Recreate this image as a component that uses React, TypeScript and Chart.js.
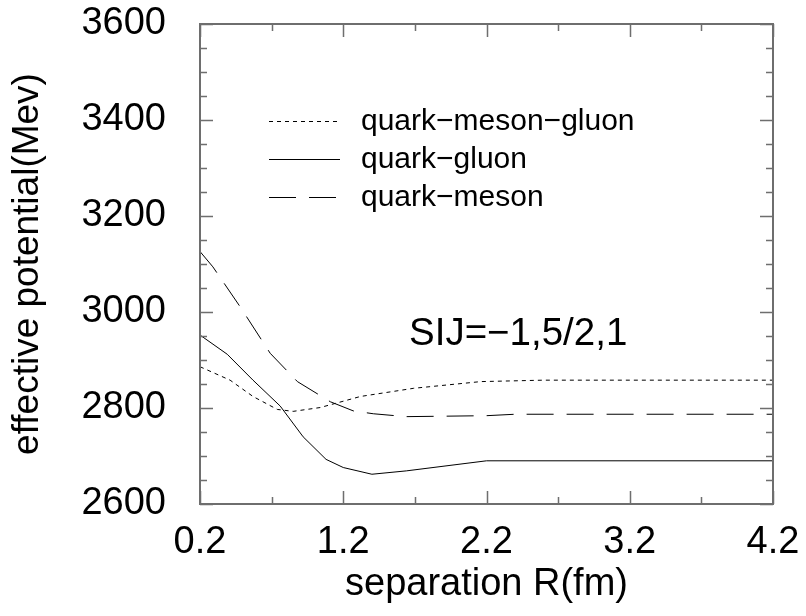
import React, { useEffect, useRef } from 'react';
import { Chart, registerables } from 'chart.js';

Chart.register(...registerables);

// ---- data ----
const xMajorTicks = [0.2, 1.2, 2.2, 3.2, 4.2];
const xMinorTicks = [0.7, 1.7, 2.7, 3.7];
const yMajorTicks = [2600, 2800, 3000, 3200, 3400, 3600];
const yMinorTicks = [2650, 2700, 2750, 2850, 2900, 2950, 3050, 3100, 3150, 3250, 3300, 3350, 3450, 3500, 3550];

const seriesLabels = ['quark\u2212meson\u2212gluon', 'quark\u2212gluon', 'quark\u2212meson'];

const qmgR = [0.2, 0.41, 0.57, 0.74, 0.85, 1.04, 1.32, 1.69, 2.16, 2.6, 3.2, 4.2];
const qmgV = [2886, 2858, 2824, 2797, 2793, 2801, 2824, 2841, 2855, 2858, 2858, 2858];

const qgR = [0.2, 0.39, 0.57, 0.76, 0.92, 1.08, 1.2, 1.4, 1.64, 2.2, 4.2];
const qgV = [2952, 2912, 2858, 2804, 2740, 2693, 2676, 2662, 2669, 2690, 2690];

const qmR = [0.2, 0.29, 0.48, 0.69, 0.88, 1.11, 1.27, 1.41, 1.64, 2.2, 2.4, 4.2];
const qmV = [3126, 3094, 3011, 2914, 2855, 2813, 2794, 2788, 2782, 2784, 2787, 2787];

const annotationText = 'SIJ=\u22121,5/2,1';
const xTitle = 'separation R(fm)';
const yTitle = 'effective potential(Mev)';

const FONT = '"Liberation Sans", Arial, Helvetica, sans-serif';
const AXIS_GRAY = '#6e6e6e';

const toPoints = (xs: number[], ys: number[]) => xs.map((x, i) => ({ x, y: ys[i] }));

const decorPlugin = {
  id: 'decor',
  afterDatasetsDraw(chart: any) {
    const { ctx, chartArea: a, scales } = chart;
    const xs = scales.x;
    const ys = scales.y;
    ctx.save();
    // inward ticks
    ctx.strokeStyle = AXIS_GRAY;
    ctx.lineWidth = 1.5;
    ctx.setLineDash([]);
    const tickX = (v: number, len: number) => {
      const px = Math.round(xs.getPixelForValue(v)) + 0.5;
      ctx.beginPath();
      ctx.moveTo(px, a.bottom);
      ctx.lineTo(px, a.bottom - len);
      ctx.moveTo(px, a.top);
      ctx.lineTo(px, a.top + len);
      ctx.stroke();
    };
    const tickY = (v: number, len: number) => {
      const py = Math.round(ys.getPixelForValue(v)) + 0.5;
      ctx.beginPath();
      ctx.moveTo(a.left, py);
      ctx.lineTo(a.left + len, py);
      ctx.moveTo(a.right, py);
      ctx.lineTo(a.right - len, py);
      ctx.stroke();
    };
    xMajorTicks.forEach((v) => tickX(v, 13));
    xMinorTicks.forEach((v) => tickX(v, 7));
    yMajorTicks.forEach((v) => tickY(v, 13));
    yMinorTicks.forEach((v) => tickY(v, 7));
    // frame
    ctx.lineWidth = 2;
    ctx.strokeRect(a.left, a.top, a.right - a.left, a.bottom - a.top);

    // legend
    const rows = [121, 159, 197];
    chart.data.datasets.forEach((ds: any, i: number) => {
      const y = rows[i] + 0.5;
      ctx.strokeStyle = '#000';
      ctx.lineWidth = 1;
      ctx.setLineDash(ds.borderDash || []);
      ctx.beginPath();
      ctx.moveTo(269, y);
      ctx.lineTo(340, y);
      ctx.stroke();
      ctx.setLineDash([]);
      ctx.fillStyle = '#000';
      ctx.font = `30px ${FONT}`;
      ctx.textAlign = 'left';
      ctx.textBaseline = 'middle';
      ctx.fillText(ds.label, 361, rows[i] + 1);
    });

    // annotation
    ctx.fillStyle = '#000';
    ctx.font = `38.5px ${FONT}`;
    ctx.textAlign = 'left';
    ctx.textBaseline = 'alphabetic';
    ctx.fillText(annotationText, 409, 345);
    ctx.restore();
  },
};

export default function App() {
  const ref = useRef<HTMLCanvasElement | null>(null);
  useEffect(() => {
    if (!ref.current) return;
    const chart = new Chart(ref.current, {
      type: 'line',
      data: {
        datasets: [
          {
            label: seriesLabels[0],
            data: toPoints(qmgR, qmgV),
            borderColor: '#000',
            borderWidth: 1,
            borderDash: [4, 4],
            pointRadius: 0,
            tension: 0,
          },
          {
            label: seriesLabels[1],
            data: toPoints(qgR, qgV),
            borderColor: '#000',
            borderWidth: 1,
            pointRadius: 0,
            tension: 0,
          },
          {
            label: seriesLabels[2],
            data: toPoints(qmR, qmV),
            borderColor: '#000',
            borderWidth: 1,
            borderDash: [27, 13],
            pointRadius: 0,
            tension: 0,
          },
        ],
      },
      options: {
        animation: false,
        responsive: false,
        devicePixelRatio: 1,
        layout: { padding: { left: 0, right: 33, top: 24, bottom: 0 } },
        plugins: { legend: { display: false }, tooltip: { enabled: false } },
        scales: {
          x: {
            type: 'linear',
            min: 0.2,
            max: 4.2,
            afterBuildTicks: (s: any) => {
              s.ticks = xMajorTicks.map((v) => ({ value: v }));
            },
            afterFit: (s: any) => {
              s.height = 112;
              s.paddingLeft = 0;
              s.paddingRight = 0;
            },
            grid: { display: false },
            border: { display: false },
            ticks: {
              autoSkip: false,
              maxRotation: 0,
              padding: 8,
              color: '#000',
              font: { family: FONT, size: 38 },
              callback: (v: any) => Number(v).toFixed(1),
            },
            title: {
              display: true,
              text: xTitle,
              color: '#000',
              font: { family: FONT, size: 38, lineHeight: 1.2 },
              padding: { top: 0, bottom: 9 },
            },
          },
          y: {
            type: 'linear',
            min: 2600,
            max: 3600,
            afterBuildTicks: (s: any) => {
              s.ticks = yMajorTicks.map((v) => ({ value: v }));
            },
            afterFit: (s: any) => {
              s.width = 200;
              s.paddingTop = 0;
              s.paddingBottom = 0;
            },
            grid: { display: false },
            border: { display: false },
            ticks: {
              autoSkip: false,
              padding: 26,
              color: '#000',
              font: { family: FONT, size: 38 },
              callback: (v: any) => String(v),
            },
            title: {
              display: true,
              text: yTitle,
              color: '#000',
              font: { family: FONT, size: 37, lineHeight: 1.2 },
              padding: { top: 6, bottom: 0 },
            },
          },
        },
      },
      plugins: [decorPlugin],
    });
    return () => chart.destroy();
  }, []);
  return (
    <div style={{ position: 'absolute', left: 0, top: 0, width: 806, height: 616, background: '#fff' }}>
      <canvas ref={ref} width={806} height={616} />
    </div>
  );
}
